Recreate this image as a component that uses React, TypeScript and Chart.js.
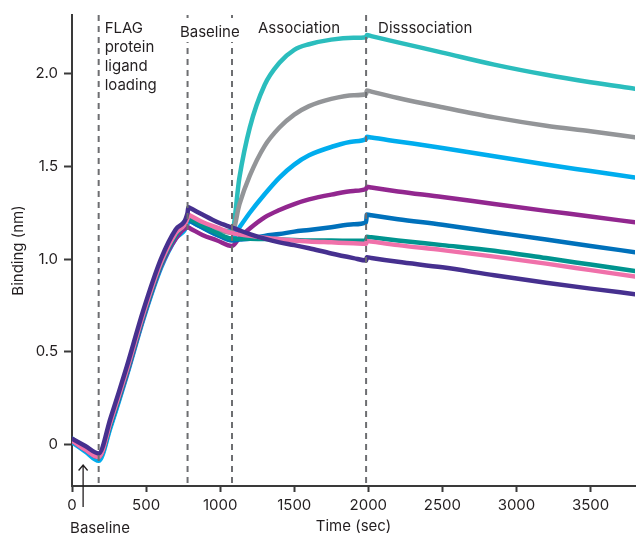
import React, { useEffect, useRef } from "react";
import { Chart, registerables } from "chart.js";

Chart.register(...registerables);

// ---- data ----
const timeSec = [0, 90, 180, 260, 370, 480, 600, 700, 780, 785, 800, 880, 980, 1080, 1130, 1200, 1300, 1400, 1500, 1600, 1750, 1900, 1985, 1990, 2020, 2200, 2500, 2850, 3200, 3500, 3800];

const indigoVals = [0.03, -0.01, -0.05, 0.14, 0.42, 0.72, 1.0, 1.16, 1.25, 1.28, 1.274, 1.24, 1.2, 1.17, 1.155, 1.135, 1.11, 1.09, 1.075, 1.058, 1.03, 1.005, 0.992, 1.01, 1.006, 0.985, 0.955, 0.912, 0.872, 0.84, 0.81];
const pinkVals = [0.02, -0.03, -0.07, 0.12, 0.4, 0.7, 0.98, 1.14, 1.22, 1.24, 1.234, 1.2, 1.17, 1.14, 1.133, 1.125, 1.115, 1.107, 1.1, 1.095, 1.09, 1.085, 1.082, 1.097, 1.094, 1.075, 1.048, 1.013, 0.975, 0.94, 0.905];
const darkTealVals = [0.03, -0.02, -0.07, 0.11, 0.39, 0.69, 0.97, 1.13, 1.21, 1.22, 1.214, 1.18, 1.14, 1.11, 1.11, 1.11, 1.108, 1.105, 1.103, 1.1, 1.1, 1.098, 1.1, 1.12, 1.117, 1.1, 1.075, 1.045, 1.005, 0.97, 0.935];
const blueVals = [0.02, -0.03, -0.07, 0.11, 0.39, 0.69, 0.97, 1.13, 1.21, 1.21, 1.204, 1.17, 1.13, 1.1, 1.105, 1.11, 1.125, 1.135, 1.148, 1.157, 1.172, 1.188, 1.198, 1.24, 1.236, 1.215, 1.185, 1.145, 1.105, 1.07, 1.037];
const purpleVals = [0.02, -0.03, -0.07, 0.11, 0.38, 0.68, 0.96, 1.11, 1.17, 1.17, 1.164, 1.13, 1.1, 1.07, 1.115, 1.165, 1.225, 1.265, 1.297, 1.322, 1.348, 1.368, 1.378, 1.39, 1.386, 1.365, 1.335, 1.297, 1.26, 1.23, 1.198];
const lightBlueVals = [0.01, -0.04, -0.09, 0.09, 0.37, 0.67, 0.95, 1.11, 1.19, 1.21, 1.204, 1.17, 1.13, 1.11, 1.17, 1.25, 1.35, 1.44, 1.51, 1.56, 1.605, 1.635, 1.648, 1.66, 1.656, 1.635, 1.6, 1.555, 1.51, 1.475, 1.44];
const grayVals = [0.02, -0.03, -0.08, 0.1, 0.38, 0.68, 0.96, 1.12, 1.2, 1.22, 1.215, 1.19, 1.16, 1.14, 1.295, 1.45, 1.61, 1.71, 1.78, 1.826, 1.865, 1.885, 1.89, 1.91, 1.904, 1.87, 1.82, 1.765, 1.72, 1.69, 1.657];
const tealVals = [0.02, -0.03, -0.08, 0.1, 0.38, 0.68, 0.96, 1.12, 1.2, 1.22, 1.215, 1.19, 1.16, 1.15, 1.44, 1.71, 1.94, 2.06, 2.13, 2.16, 2.185, 2.195, 2.198, 2.21, 2.204, 2.17, 2.115, 2.05, 1.995, 1.955, 1.92];

const seriesNames = ["indigo", "pink", "darkTeal", "blue", "purple", "lightBlue", "gray", "teal"];
const seriesValues = [indigoVals, pinkVals, darkTealVals, blueVals, purpleVals, lightBlueVals, grayVals, tealVals];
const seriesColors = ["#46308f", "#f071aa", "#00948f", "#0071bb", "#92278f", "#00adee", "#939598", "#2bbdbd"];

const xTicks = [0, 500, 1000, 1500, 2000, 2500, 3000, 3500];
const yTicks = [0, 0.5, 1.0, 1.5, 2.0];
const yTickLabels = ["0", "0.5", "1.0", "1.5", "2.0"];

const phaseBoundaries = [180, 780, 1080, 1985];
const baselineArrowTime = 75;

const FONT = "Inter, 'DejaVu Sans', sans-serif";
const TEXT = "#231f20";

const annotationPlugin = {
  id: "phaseAnnotations",
  afterDatasetsDraw(chart: any) {
    const { ctx, chartArea, scales } = chart;
    const xs = scales.x;
    const top = chartArea.top;
    const bottom = chartArea.bottom;
    const px = phaseBoundaries.map((t) => xs.getPixelForValue(t));
    ctx.save();
    // dashed phase lines
    ctx.strokeStyle = "#6d6e71";
    ctx.lineWidth = 2;
    ctx.setLineDash([6, 5]);
    px.forEach((x) => {
      ctx.beginPath();
      ctx.moveTo(x, top);
      ctx.lineTo(x, bottom);
      ctx.stroke();
    });
    ctx.setLineDash([]);

    ctx.font = `15px ${FONT}`;
    ctx.fillStyle = TEXT;
    ctx.textBaseline = "alphabetic";

    // FLAG protein ligand loading
    ctx.textAlign = "left";
    ["FLAG", "protein", "ligand", "loading"].forEach((s, i) => {
      ctx.fillText(s, px[0] + 6, top + 18 + i * 19);
    });

    // Baseline (top) with white background
    const bx = (px[1] + px[2]) / 2;
    const bw = ctx.measureText("Baseline").width;
    ctx.fillStyle = "#ffffff";
    ctx.fillRect(bx - bw / 2 - 2, top + 3, bw + 4, 24);
    ctx.fillStyle = TEXT;
    ctx.textAlign = "center";
    ctx.fillText("Baseline", bx, top + 22);

    // Association
    ctx.fillText("Association", (px[2] + px[3]) / 2, top + 18);

    // Dissociation
    ctx.textAlign = "left";
    ctx.fillText("Disssociation", px[3] + 12, top + 18);

    // arrow + bottom Baseline
    const ax = xs.getPixelForValue(baselineArrowTime);
    ctx.strokeStyle = TEXT;
    ctx.lineWidth = 1.3;
    ctx.beginPath();
    ctx.moveTo(ax, bottom + 21);
    ctx.lineTo(ax, bottom - 21);
    ctx.moveTo(ax - 4.5, bottom - 15.5);
    ctx.lineTo(ax, bottom - 21);
    ctx.lineTo(ax + 4.5, bottom - 15.5);
    ctx.stroke();
    ctx.textAlign = "left";
    ctx.fillText("Baseline", ax - 13, bottom + 47);
    ctx.restore();
  },
};

export default function App() {
  const canvasRef = useRef<HTMLCanvasElement | null>(null);

  useEffect(() => {
    if (!canvasRef.current) return;
    const datasets = seriesNames.map((name, i) => ({
      label: name,
      data: timeSec.map((t, j) => ({ x: t, y: seriesValues[i][j] })),
      borderColor: seriesColors[i],
      backgroundColor: seriesColors[i],
      borderWidth: 4.5,
      pointRadius: 0,
      fill: false,
      cubicInterpolationMode: "monotone" as const,
      borderCapStyle: "round" as const,
      borderJoinStyle: "round" as const,
    }));

    const chart = new Chart(canvasRef.current, {
      type: "line",
      data: { datasets },
      options: {
        animation: false,
        responsive: true,
        maintainAspectRatio: false,
        devicePixelRatio: 1,
        layout: { padding: { top: 14, right: 3, left: 0, bottom: 0 } },
        plugins: {
          legend: { display: false },
          tooltip: { enabled: false },
        },
        scales: {
          x: {
            type: "linear",
            min: 0,
            max: 3800,
            afterBuildTicks: (scale: any) => {
              scale.ticks = xTicks.map((v) => ({ value: v }));
            },
            afterFit: (scale: any) => {
              scale.height = 50;
            },
            ticks: {
              font: { family: FONT, size: 15 },
              color: TEXT,
              padding: 4,
              maxRotation: 0,
              callback: (v: any) => String(v),
            },
            grid: {
              drawOnChartArea: false,
              drawTicks: true,
              tickLength: 6,
              tickWidth: 2,
              tickColor: "#3a3a3a",
            },
            border: { display: true, color: "#3a3a3a", width: 2 },
            title: {
              display: true,
              text: "Time (sec)",
              font: { family: FONT, size: 15 },
              color: TEXT,
              padding: { top: 0, bottom: 1 },
            },
          },
          y: {
            type: "linear",
            min: -0.226,
            max: 2.318,
            afterBuildTicks: (scale: any) => {
              scale.ticks = yTicks.map((v) => ({ value: v }));
            },
            afterFit: (scale: any) => {
              scale.width = 72;
            },
            ticks: {
              font: { family: FONT, size: 15 },
              color: TEXT,
              padding: 6,
              callback: (v: any) => {
                const idx = yTicks.indexOf(Number(v));
                return idx >= 0 ? yTickLabels[idx] : "";
              },
            },
            grid: {
              drawOnChartArea: false,
              drawTicks: true,
              tickLength: 8,
              tickWidth: 2,
              tickColor: "#3a3a3a",
            },
            border: { display: true, color: "#3a3a3a", width: 2 },
            title: {
              display: true,
              text: "Binding (nm)",
              font: { family: FONT, size: 15 },
              color: TEXT,
              padding: { top: 9, bottom: 0 },
            },
          },
        },
      },
      plugins: [annotationPlugin],
    });
    return () => chart.destroy();
  }, []);

  return (
    <div style={{ position: "absolute", left: 0, top: 0, width: 638, height: 536, background: "#fff" }}>
      <canvas ref={canvasRef} />
    </div>
  );
}
